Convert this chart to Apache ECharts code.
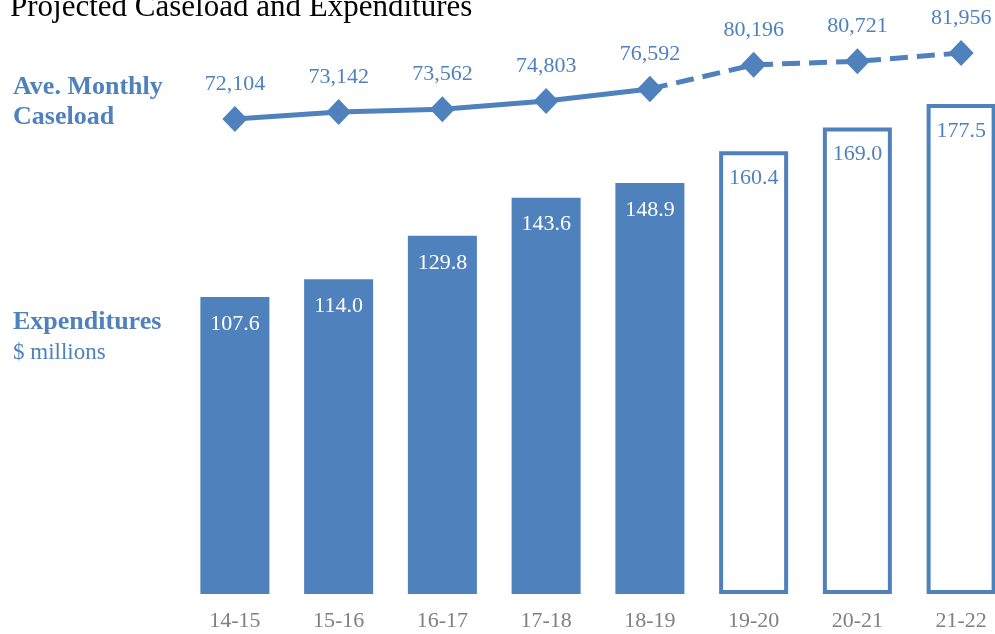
<!DOCTYPE html>
<html>
<head>
<meta charset="utf-8">
<script src="https://cdn.jsdelivr.net/npm/echarts@6/dist/echarts.min.js"></script>
<style>html,body{margin:0;padding:0;background:#fff;overflow:hidden}#c{width:1030px;height:634px}</style>
</head>
<body>
<div id="c"></div>
<script>
var categories = ['14-15','15-16','16-17','17-18','18-19','19-20','20-21','21-22'];
var expenditures = [107.6, 114.0, 129.8, 143.6, 148.9, 160.4, 169.0, 177.5];
var caseload = [72104, 73142, 73562, 74803, 76592, 80196, 80721, 81956];
var firstProjected = 5; // index of first projected year

var BLUE = '#4f81bd';
var FONT = '"Liberation Serif", "DejaVu Serif", serif';

var barData = expenditures.map(function (v, i) {
  var proj = i >= firstProjected;
  return {
    value: v,
    itemStyle: proj ? { color: '#ffffff', borderColor: BLUE, borderWidth: 4 } : { color: BLUE },
    label: { color: proj ? BLUE : '#ffffff' }
  };
});
var solidLine = caseload.map(function (v, i) { return i < firstProjected ? v : null; });
var dashedLine = caseload.map(function (v, i) { return i >= firstProjected - 1 ? v : null; });

var chart = echarts.init(document.getElementById('c'));
var lineLabel = function (minIdx) {
  return {
    show: true, position: 'top', distance: 11, color: BLUE, fontFamily: FONT, fontSize: 22,
    formatter: function (p) { return p.dataIndex >= minIdx ? p.value.toLocaleString('en-US') : ''; }
  };
};
chart.setOption({
  animation: false,
  textStyle: { fontFamily: FONT },
  grid: [
    { left: 183, width: 830, top: 42, bottom: 40 },
    { left: 183, width: 830, top: 32.6, bottom: 500.9 }
  ],
  xAxis: [
    { type: 'category', gridIndex: 0, data: categories, axisLine: { show: false }, axisTick: { show: false },
      axisLabel: { color: '#808080', fontSize: 22, fontFamily: FONT, margin: 16 } },
    { type: 'category', gridIndex: 1, data: categories, show: false }
  ],
  yAxis: [
    { type: 'value', gridIndex: 0, min: 0, max: 200, show: false },
    { type: 'value', gridIndex: 1, min: 70000, max: 85000, show: false }
  ],
  series: [
    { type: 'bar', xAxisIndex: 0, yAxisIndex: 0, barWidth: 69, data: barData,
      label: { show: true, position: 'insideTop', distance: 16, fontSize: 22, fontFamily: FONT,
        formatter: function (p) { return p.value.toFixed(1); } } },
    { type: 'line', xAxisIndex: 1, yAxisIndex: 1, data: solidLine, symbol: 'diamond', symbolSize: [25, 26],
      lineStyle: { color: BLUE, width: 5 }, itemStyle: { color: BLUE }, label: lineLabel(0), z: 5 },
    { type: 'line', xAxisIndex: 1, yAxisIndex: 1, data: dashedLine, symbol: 'diamond', symbolSize: [25, 26],
      lineStyle: { color: BLUE, width: 5, type: [18, 9] }, itemStyle: { color: BLUE }, label: lineLabel(firstProjected), z: 4 }
  ],
  graphic: [
    { type: 'text', left: 10, top: -8, style: { text: 'Projected Caseload and Expenditures', fill: '#000', font: '31px ' + FONT } },
    { type: 'text', left: 13, top: 74, style: { text: 'Ave. Monthly', fill: BLUE, font: 'bold 26px ' + FONT } },
    { type: 'text', left: 13, top: 104, style: { text: 'Caseload', fill: BLUE, font: 'bold 26px ' + FONT } },
    { type: 'text', left: 13, top: 309, style: { text: 'Expenditures', fill: BLUE, font: 'bold 26px ' + FONT } },
    { type: 'text', left: 13, top: 341, style: { text: '$ millions', fill: BLUE, font: '23px ' + FONT } }
  ]
});
</script>
</body>
</html>
